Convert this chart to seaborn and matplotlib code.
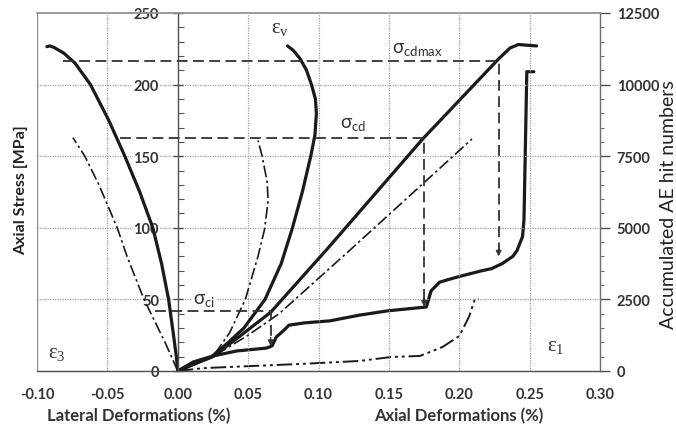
import numpy as np
import pandas as pd
import matplotlib
matplotlib.use("Agg")
import matplotlib.pyplot as plt
from matplotlib.ticker import MultipleLocator, FixedLocator
import seaborn as sns

# ---------------- data ----------------
# sample 1 (thick solid)
e3_x = [0.0, -0.001, -0.003, -0.0065, -0.0115, -0.0177, -0.027, -0.0376, -0.049, -0.062, -0.073, -0.081, -0.088, -0.091, -0.093]
e3_y = [0, 10, 25, 50, 75, 100, 125, 150, 175, 200, 215, 222, 226, 227, 226.5]
ev_x = [0.0, 0.012, 0.024, 0.036, 0.047, 0.062, 0.0735, 0.0815, 0.0885, 0.0945, 0.0975, 0.0985, 0.0978, 0.095, 0.0915, 0.087, 0.082, 0.078]
ev_y = [0, 5, 10, 20, 30, 50, 75, 100, 125, 150, 165, 180, 190, 200, 210, 218, 224, 227]
e1_x = [0.0, 0.012, 0.025, 0.045, 0.066, 0.106, 0.174, 0.228, 0.236, 0.242, 0.248, 0.255]
e1_y = [0, 5, 10, 25, 41, 85, 162, 218, 225.5, 228, 227.5, 227]
# sample 2 (dash-dot)
e3b_x = [0.0, -0.009, -0.024, -0.036, -0.043, -0.056, -0.066, -0.0745]
e3b_y = [0, 20, 50, 80, 100, 130, 150, 163]
evb_x = [0.0, 0.012, 0.025, 0.037, 0.048, 0.057, 0.0617, 0.0642, 0.0635, 0.060, 0.057]
evb_y = [0, 5, 10, 27, 50, 80, 99, 119, 132, 150, 161]
e1b_x = [0.0, 0.012, 0.025, 0.05, 0.072, 0.123, 0.209]
e1b_y = [0, 5, 10, 25, 40, 85, 162]
# accumulated AE hits
ae_x = [0.0, 0.011, 0.025, 0.042, 0.063, 0.067, 0.070, 0.076, 0.079, 0.090, 0.100, 0.108, 0.129, 0.149,
        0.1766, 0.177, 0.180, 0.186, 0.191, 0.200, 0.216, 0.223, 0.2305, 0.238, 0.241, 0.245, 0.246, 0.248, 0.253]
ae_y = [0, 315, 525, 700, 800, 875, 1185, 1450, 1600, 1680, 1720, 1750, 1950, 2100,
        2235, 2300, 2800, 3100, 3175, 3300, 3500, 3575, 3750, 4000, 4200, 4700, 5300, 10450, 10450]
aeb_x = [0.0, 0.018, 0.053, 0.089, 0.129, 0.152, 0.172, 0.188, 0.200, 0.207, 0.211, 0.214]
aeb_y = [0, 100, 175, 250, 350, 490, 525, 835, 1220, 1900, 2500, 2500]

# stress thresholds: level, start x, x on e1 curve, arrow tip (AE hits)
sig_names = ["ci", "cd", "cdmax"]
sig_level = [42, 163, 216.5]
sig_xstart = [-0.016, -0.041, -0.0816]
sig_xend = [0.066, 0.175, 0.228]
sig_tip_hits = [875, 2250, 4000]

x_ticks = [-0.10, -0.05, 0.00, 0.05, 0.10, 0.15, 0.20, 0.25, 0.30]
y_ticks = [0, 50, 100, 150, 200, 250]
y2_ticks = [0, 2500, 5000, 7500, 10000, 12500]

# ---------------- style ----------------
sns.set_theme(style="white")
plt.rcParams["font.family"] = ["Lato", "DejaVu Sans"]
DARK = "#1a1a1a"
TXT = "#333333"
GRID = "#a0a0a0"

fig = plt.figure(figsize=(6.76, 4.27), dpi=100)
ax = fig.add_axes([37 / 676, 55 / 427, 563 / 676, 358 / 427])
ax2 = ax.twinx()

ax.set_xlim(-0.10, 0.30)
ax.set_ylim(0, 250)
ax2.set_ylim(0, 12500)

# grid
for gx in x_ticks[1:-1]:
    if abs(gx) > 1e-9:
        ax.axvline(gx, color=GRID, lw=0.9, ls=(0, (1, 1)), zorder=0)
for gy in y_ticks[1:-1]:
    ax.axhline(gy, color=GRID, lw=0.9, ls=(0, (1, 1)), zorder=0)

thick = dict(color=DARK, lw=2.3, sort=False, estimator=None)
dd = dict(color=DARK, lw=1.2, sort=False, estimator=None, linestyle=(0, (7, 2, 1.5, 2)))
ddd = dict(color=DARK, lw=1.4, sort=False, estimator=None, linestyle=(0, (8, 2, 1.5, 2, 1.5, 2)))

sns.lineplot(x=e3_x, y=e3_y, ax=ax, **thick)
sns.lineplot(x=ev_x, y=ev_y, ax=ax, **thick)
sns.lineplot(x=e1_x, y=e1_y, ax=ax, **thick)
sns.lineplot(x=e3b_x, y=e3b_y, ax=ax, **dd)
sns.lineplot(x=evb_x, y=evb_y, ax=ax, **dd)
sns.lineplot(x=e1b_x, y=e1b_y, ax=ax, **dd)
sns.lineplot(x=ae_x, y=ae_y, ax=ax2, **thick)
sns.lineplot(x=aeb_x, y=aeb_y, ax=ax2, **ddd)

# threshold dashed lines with arrows
for lvl, xs, xe, tip in zip(sig_level, sig_xstart, sig_xend, sig_tip_hits):
    tip_y = tip / 50.0
    ax.plot([xs, xe, xe], [lvl, lvl, tip_y + 3], color="#333333", lw=1.3,
            ls=(0, (6, 3)), zorder=3)
    ax.annotate("", xy=(xe, tip_y), xytext=(xe, tip_y + 6),
                arrowprops=dict(arrowstyle="-|>", color="#333333", lw=1.0,
                                mutation_scale=8, shrinkA=0, shrinkB=0), zorder=4)

# sigma labels
sig_pos = [(0.011, 50), (0.115, 173), (0.152, 225)]
for name, (sx, sy) in zip(sig_names, sig_pos):
    ax.text(sx, sy, r"$\mathregular{σ_{%s}}$" % name, fontsize=13.5, color=TXT,
            ha="left", va="center", zorder=5,
            bbox=dict(facecolor="white", edgecolor="none", pad=0.5))

# epsilon labels
eps_kw = dict(fontsize=15, color=TXT, family=["Liberation Serif", "DejaVu Serif"], va="center")
ax.text(-0.092, 13, r"$\mathregular{ε_3}$", ha="left", **eps_kw)
ax.text(0.066, 240, r"$\mathregular{ε_v}$", ha="left", **eps_kw)
ax.text(0.262, 18, r"$\mathregular{ε_1}$", ha="left", **eps_kw)

# spines
ax.spines["left"].set_position(("data", 0))
ax.spines["bottom"].set_position(("data", 0))
for s in ["left", "bottom"]:
    ax.spines[s].set_color("#505050")
    ax.spines[s].set_linewidth(1.0)
ax.spines["top"].set_color("#909090")
ax.spines["right"].set_visible(False)
for s in ["left", "top", "bottom"]:
    ax2.spines[s].set_visible(False)
ax2.spines["right"].set_color("#707070")
ax2.spines["right"].set_linewidth(1.0)
ax.axvline(-0.10, color="#909090", lw=1.0, zorder=1)
ax.set_zorder(ax2.get_zorder() + 1)
ax.patch.set_visible(False)

# ticks
ax.xaxis.set_major_locator(FixedLocator(x_ticks))
ax.xaxis.set_minor_locator(MultipleLocator(0.01))
ax.yaxis.set_major_locator(FixedLocator(y_ticks))
ax.yaxis.set_minor_locator(MultipleLocator(10))
ax2.yaxis.set_major_locator(FixedLocator(y2_ticks))
ax2.yaxis.set_minor_locator(MultipleLocator(500))
ax.set_xticklabels(["%.2f" % v for v in x_ticks])
ax.set_yticklabels([str(v) for v in y_ticks])
ax2.set_yticklabels([str(v) for v in y2_ticks])

lab = dict(labelsize=10.5, labelcolor=TXT, color="#505050")
ax.tick_params(axis="x", which="major", direction="inout", length=7, width=1, pad=8, **lab)
ax.tick_params(axis="x", which="minor", direction="in", length=4, width=0.8, color="#505050")
ax.tick_params(axis="y", which="major", direction="inout", length=7, width=1, pad=10, **lab)
ax.tick_params(axis="y", which="minor", direction="in", length=4, width=0.8, color="#505050")
ax2.tick_params(axis="y", which="major", direction="out", length=7, width=1, pad=5, **lab)
ax2.tick_params(axis="y", which="minor", direction="out", length=3, width=0.8, color="#707070")
for t in ax.get_xticklabels() + ax.get_yticklabels() + ax2.get_yticklabels():
    t.set_fontweight("bold")
for t in ax.get_yticklabels():
    t.set_bbox(dict(facecolor="white", edgecolor="none", pad=0.5))

ax.set_xlabel("")
ax.set_ylabel("")
ax2.set_ylabel("")

fig.text(21 / 676, 1 - 190 / 427, "Axial Stress [MPa]", rotation=90, ha="center", va="center",
         fontsize=11.5, fontweight="bold", color="#222222")
fig.text(668 / 676, 1 - 205 / 427, "Accumulated AE hit numbers", rotation=90, ha="center",
         va="center", fontsize=14, fontweight="normal", color="#222222")
fig.text(139 / 676, 1 - 416 / 427, "Lateral Deformations (%)", ha="center", va="center",
         fontsize=12, fontweight="bold", color=TXT)
fig.text(459 / 676, 1 - 416 / 427, "Axial Deformations (%)", ha="center", va="center",
         fontsize=12, fontweight="bold", color=TXT)

fig.savefig("out.png", dpi=100)
